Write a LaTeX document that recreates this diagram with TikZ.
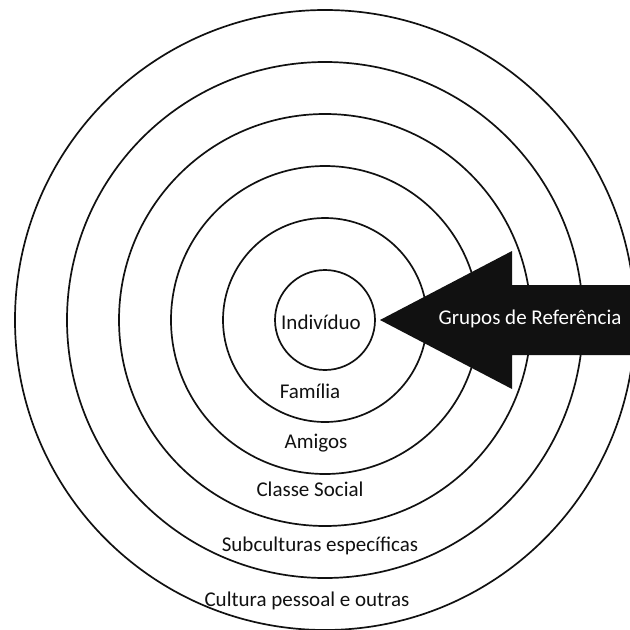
\documentclass[tikz,border=0pt]{standalone}
\usepackage{fontspec}
\setmainfont{Carlito}
\usepackage{xcolor}
\definecolor{ringink}{HTML}{111111}
\definecolor{ringpaper}{HTML}{FFFFFF}
\newcommand{\ringsbase}{%
  \foreach \r in {50,102,...,310}
    \draw[ringink, line width=1.7pt] (ctr) circle (\r);
}
\newcommand{\refarrow}{%
  \fill[ringink] (380,320) -- (512,251) -- (512,285) -- (640,285)
    -- (640,355) -- (512,355) -- (512,389) -- cycle;
}

\begin{document}
\begin{tikzpicture}[
  x=1pt,
  y=-1pt,
  every node/.style={font=\fontsize{21}{25}\selectfont, inner sep=0pt, anchor=base}
]
  \useasboundingbox (0,0) rectangle (630,630);
  \fill[ringpaper] (0,0) rectangle (630,630);
  \clip (0,0) rectangle (630,630);
  \coordinate (ctr) at (325,320);

  \ringsbase
  \refarrow

  \node[ringpaper] (grupos) at (530,324) {Grupos de Referência};
  \node[ringink] (indiv) at (321,329) {Indivíduo};
  \node[ringink] (familia) at (310,398) {Família};
  \node[ringink] (amigos) at (316,448) {Amigos};
  \node[ringink] (classe) at (310,496) {Classe Social};
  \node[ringink] (subcult) at (320,551) {Subculturas específicas};
  \node[ringink] (cultura) at (307,606) {Cultura pessoal e outras};
\end{tikzpicture}
\end{document}
